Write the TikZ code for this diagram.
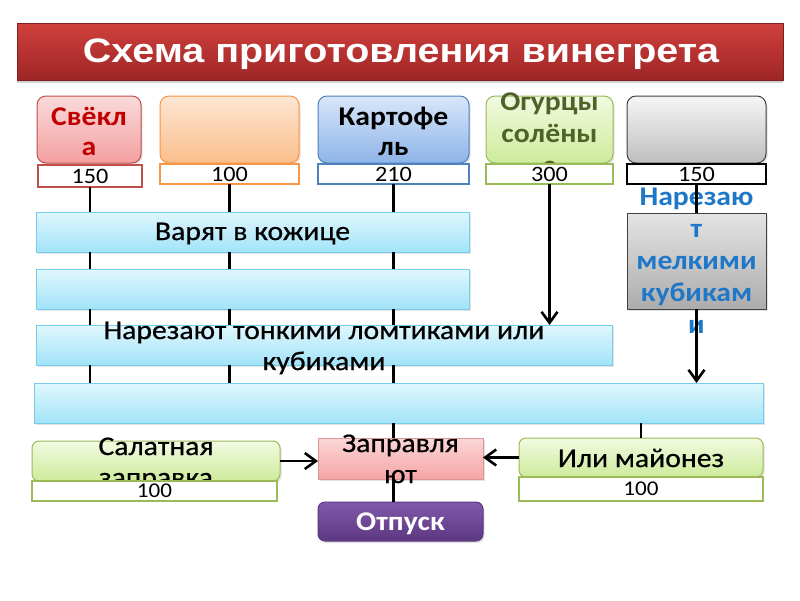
\documentclass[tikz,border=0pt]{standalone}
\usepackage{fontspec}
\setmainfont{Carlito}
\newfontfamily\cf{Carlito}[FakeStretch=1.1]
\newfontfamily\cfr{Carlito}[FakeStretch=1.1,FakeBold=0.6]
\newfontfamily\tfont{Liberation Sans}[FakeStretch=1.16]
\usetikzlibrary{arrows.meta,shadows}
\definecolor{ttop}{RGB}{208,64,60}
\definecolor{tbot}{RGB}{158,38,38}
\definecolor{svtop}{RGB}{250,218,218}
\definecolor{svbot}{RGB}{244,160,160}
\definecolor{svline}{RGB}{192,80,77}
\definecolor{svtext}{RGB}{192,0,0}
\definecolor{ortop}{RGB}{253,230,210}
\definecolor{orbot}{RGB}{251,190,140}
\definecolor{orline}{RGB}{247,150,70}
\definecolor{bltop}{RGB}{216,230,250}
\definecolor{blbot}{RGB}{142,180,232}
\definecolor{blline}{RGB}{79,129,189}
\definecolor{grtop}{RGB}{242,250,225}
\definecolor{grbot}{RGB}{205,235,155}
\definecolor{grline}{RGB}{155,187,89}
\definecolor{grtext}{RGB}{79,98,40}
\definecolor{gytop}{RGB}{246,246,246}
\definecolor{gybot}{RGB}{190,190,190}
\definecolor{gyline}{RGB}{64,64,64}
\definecolor{bartop}{RGB}{224,247,253}
\definecolor{barbot}{RGB}{162,227,248}
\definecolor{barline}{RGB}{120,205,235}
\definecolor{g2top}{RGB}{228,228,228}
\definecolor{g2bot}{RGB}{172,172,172}
\definecolor{bltext}{RGB}{31,119,200}
\definecolor{zptop}{RGB}{252,214,214}
\definecolor{zpbot}{RGB}{245,165,165}
\definecolor{zpline}{RGB}{217,150,148}
\definecolor{putop}{RGB}{130,88,172}
\definecolor{pubot}{RGB}{92,56,128}
\begin{document}
\begin{tikzpicture}[x=1pt,y=-1pt,
  every node/.style={inner sep=0pt, outer sep=0pt},
  sh/.style={drop shadow={opacity=0.22, shadow xshift=1.5pt, shadow yshift=-2pt}},
  bx/.style={draw, rounded corners=9pt, line width=1pt, sh},
  num/.style={draw, fill=white, line width=1.3pt, font=\cf\fontsize{22}{26}\selectfont},
  bar/.style={draw=barline, top color=bartop, bottom color=barbot, line width=0.8pt, sh},
  lbl/.style={anchor=base, font=\cfr\fontsize{27}{31}\selectfont},
  lblb/.style={anchor=base, font=\cf\fontsize{27}{31}\selectfont\bfseries},
  ln/.style={line width=2.6pt, black},
  arr/.style={ln, -{Straight Barb[length=11pt,width=16pt]}}
]
\useasboundingbox (0,0) rectangle (800,600);
\fill[white] (0,0) rectangle (800,600);

% title
\node[top color=ttop, bottom color=tbot, draw=tbot!80!black, line width=0.5pt,
  minimum width=766pt, minimum height=57pt,
  drop shadow={opacity=0.35, shadow xshift=0pt, shadow yshift=-3pt}] (title) at (400,51.5) {};
\node[anchor=base, text=white, font=\tfont\fontsize{34}{38}\selectfont\bfseries] (titletxt) at (401,62) {Схема приготовления винегрета};

% top boxes
\node[bx, draw=svline, top color=svtop, bottom color=svbot, minimum width=104pt, minimum height=67pt] (sv) at (89,129.5) {};
\node[bx, draw=orline, top color=ortop, bottom color=orbot, minimum width=139pt, minimum height=67pt] (or) at (229.5,129.5) {};
\node[bx, draw=blline, top color=bltop, bottom color=blbot, minimum width=151pt, minimum height=67pt] (ka) at (393.5,129.5) {};
\node[bx, draw=grline, top color=grtop, bottom color=grbot, minimum width=127pt, minimum height=67pt] (og) at (549.5,129.5) {};
\node[bx, draw=gyline, top color=gytop, bottom color=gybot, minimum width=139pt, minimum height=67pt] (gy) at (696.5,129.5) {};

\node[lblb, text=svtext] (sv1) at (89,125) {Свёкл};
\node[lblb, text=svtext] (sv2) at (89,155) {а};
\node[lblb] (ka1) at (393.5,125) {Картофе};
\node[lblb] (ka2) at (393.5,155) {ль};
\node[lblb, text=grtext] (og1) at (549.5,110) {Огурцы};
\node[lblb, text=grtext] (og2) at (549.5,142) {солёны};
\node[lblb, text=grtext] (og3) at (549.5,174) {е};

% number boxes
\node[num, draw=svline, minimum width=104pt, minimum height=22pt] (n1) at (90,176) {150};
\node[num, draw=orline, minimum width=139pt, minimum height=20pt] (n2) at (229.5,174) {100};
\node[num, draw=blline, minimum width=151pt, minimum height=20pt] (n3) at (393.5,174) {210};
\node[num, draw=grline, minimum width=127pt, minimum height=20pt] (n4) at (549.5,174) {300};
\node[num, draw=black, minimum width=139pt, minimum height=20pt] (n5) at (696.5,174) {150};

% bars
\node[bar, minimum width=433pt, minimum height=40pt] (b1) at (252.5,232) {};
\node[bar, minimum width=433pt, minimum height=40pt] (b2) at (252.5,289) {};
\node[bar, minimum width=576pt, minimum height=40pt] (b3) at (324,345) {};
\node[bar, minimum width=729pt, minimum height=40pt] (b4) at (398.5,403) {};
\node[lbl] (b1t) at (252.5,240) {Варят в кожице};
\node[lbl] (b3t1) at (324,339) {Нарезают тонкими ломтиками или};
\node[lbl] (b3t2) at (324,370) {кубиками};

% grey cutting box
\node[draw=gyline, line width=1pt, top color=g2top, bottom color=g2bot, sh, minimum width=139pt, minimum height=96pt] (gr) at (696.5,261) {};
\node[lblb, text=bltext] (gr1) at (696.5,205) {Нарезаю};
\node[lblb, text=bltext] (gr2) at (696.5,237) {т};
\node[lblb, text=bltext] (gr3) at (696.5,269) {мелкими};
\node[lblb, text=bltext] (gr4) at (696.5,301) {кубикам};
\node[lblb, text=bltext] (gr5) at (696.5,333) {и};

% bottom
\node[bx, draw=grline, top color=grtop, bottom color=grbot, rounded corners=7pt, minimum width=248pt, minimum height=40pt] (sal) at (156,461) {};
\node[lbl] (sal1) at (156,455) {Салатная};
\node[lbl] (sal2) at (156,486) {заправка};
\node[num, draw=grline, minimum width=245pt, minimum height=20pt, font=\cf\fontsize{21}{24}\selectfont] (saln) at (154.5,491) {100};

\node[bx, draw=grline, top color=grtop, bottom color=grbot, rounded corners=7pt, minimum width=244pt, minimum height=39pt] (may) at (641,457.5) {};
\node[lbl] (may1) at (641,467) {Или майонез};
\node[num, draw=grline, minimum width=244pt, minimum height=24pt, font=\cf\fontsize{21}{24}\selectfont] (mayn) at (641,489) {100};

\node[draw=zpline, line width=1pt, top color=zptop, bottom color=zpbot, sh, minimum width=165pt, minimum height=41pt] (zap) at (400.5,458.5) {};
\node[lbl] (zap1) at (400.5,452) {Заправля};
\node[lbl] (zap2) at (400.5,483) {ют};

\node[bx, draw=pubot, top color=putop, bottom color=pubot, rounded corners=7pt, minimum width=165pt, minimum height=39pt] (otp) at (400.5,521.5) {};
\node[lblb, text=white] (otp1) at (400.5,530) {Отпуск};

% connectors
\foreach \c in {n1,n2,n3}{
  \draw[ln] (\c.south) -- (\c.south |- b1.north);
  \draw[ln] (\c.south |- b1.south) -- (\c.south |- b2.north);
  \draw[ln] (\c.south |- b2.south) -- (\c.south |- b3.north);
  \draw[ln] (\c.south |- b3.south) -- (\c.south |- b4.north);
}
\draw[ln] (n3.south |- b4.south) -- (n3.south |- zap.north);
\draw[ln] (n3.south |- zap.south) -- (n3.south |- otp.north);
\draw[arr] (n4.south) -- (n4.south |- b3.north);
\draw[ln] (n5.south) -- (gr.north);
\draw[arr] (gr.south) -- (gr.south |- b4.north);
\draw[ln] (may.north |- b4.south) -- (may.north);
\draw[arr] (sal.east) -- (zap.west |- sal.east);
\draw[arr] (may.west) -- (zap.east |- may.west);
\end{tikzpicture}
\end{document}
